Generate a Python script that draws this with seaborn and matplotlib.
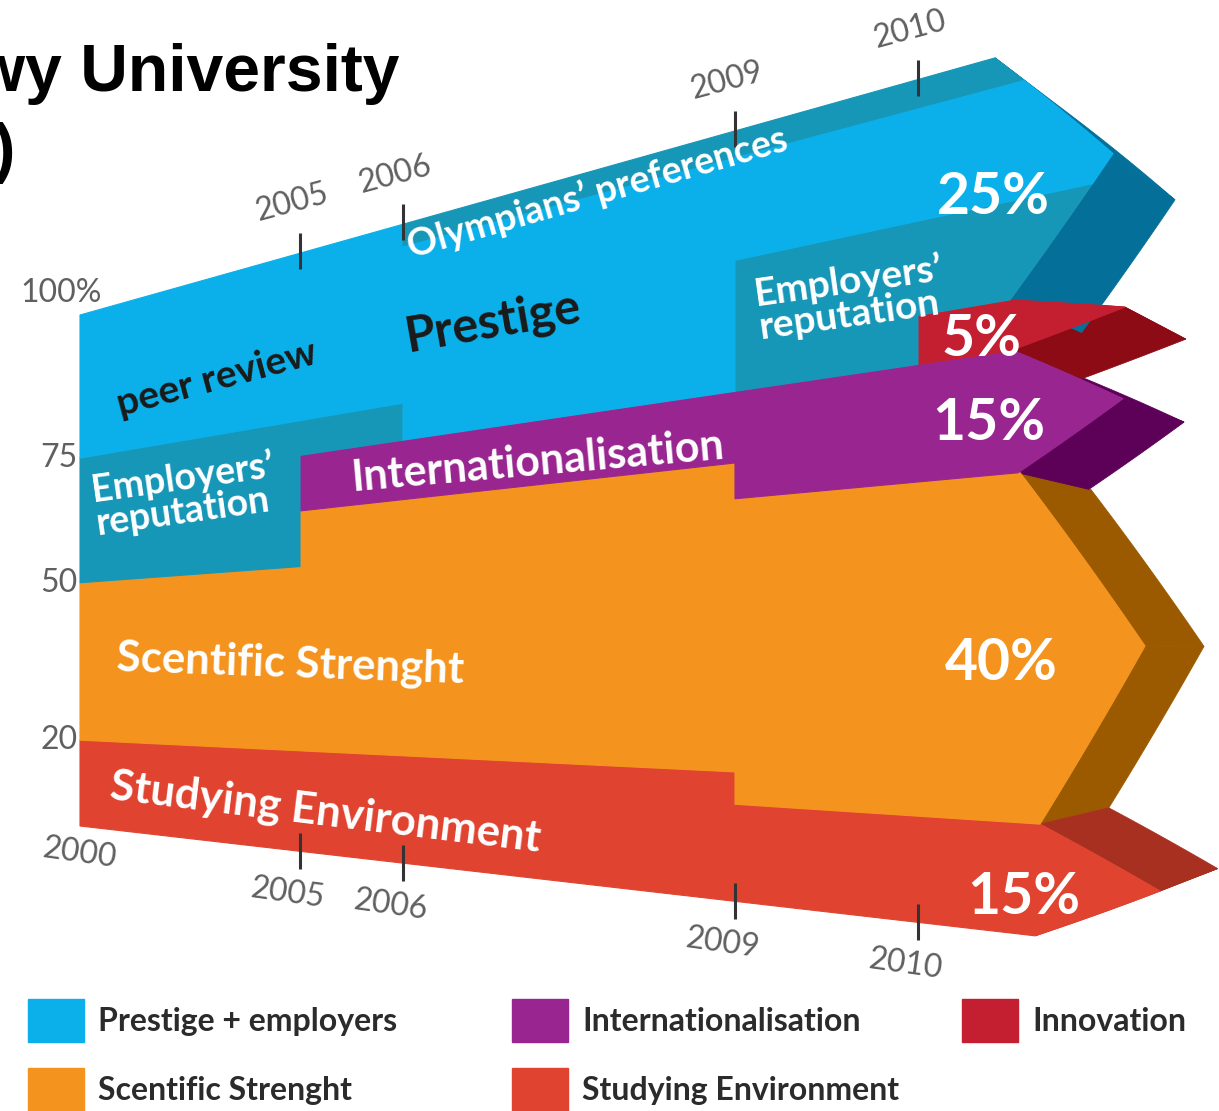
import numpy as np
import matplotlib
matplotlib.use('Agg')
import matplotlib.pyplot as plt
import seaborn as sns
from matplotlib.patches import Patch

# weights of the ranking criteria (percent) per edition
years = [2000, 2005, 2006, 2009, 2010]
studying = [20, 20, 20, 15, 15]
scientific = [30, 40, 40, 40, 40]
internationalisation = [0, 10, 10, 15, 15]
innovation = [0, 0, 0, 0, 5]
employers = [25, 5, 0, 15, 10]
peer_review = [25, 25, 27, 12, 12]
olympians = [0, 0, 3, 3, 3]

pct_ticks = [100, 75, 50, 20]
pct_tick_labels = ['100%', '75', '50', '20']

legend_cols = [
    [('Prestige + employers', 'peer_review'), ('Scentific Strenght', 'scientific')],
    [('Internationalisation', 'internationalisation'), ('Studying Environment', 'studying')],
    [('Innovation', 'innovation')],
]

# ---- layout of the fake-perspective band (pixels) ----
W, H = 1219, 1111
YEAR_U = [80, 300, 403, 735, 918]
TOP_Y0, TOP_SLOPE = 315, -0.281
BOT_Y0, BOT_SLOPE = 826, 0.115
WARP_P = [0, 20, 50, 70, 75, 100]
WARP_F = [0, 0.168, 0.476, 0.662, 0.72, 1.0]
VP, DEPTH = (1777, 650), 0.0933
HEADS = {  # u of top corner, tip, bottom corner
    'prestige': (995, 1113, 1010),
    'innovation': (1010, 1125, 1010),
    'internationalisation': (1013, 1123, 1018),
    'scientific': (1020, 1145, 1040),
    'studying': (1040, 1160, 1035),
}
LEGEND_X = [28, 512, 962]

colors = {
    'studying': '#e04430', 'scientific': '#f4941f', 'internationalisation': '#992690',
    'innovation': '#c41f30', 'employers': '#1797b7', 'peer_review': '#0bb0ea',
    'olympians': '#1797b7',
}
side_colors = {
    'prestige': '#04709a', 'innovation': '#8c0b14', 'internationalisation': '#5d0058',
    'scientific': '#9b5a00', 'studying': '#a83020',
}

layers = [
    ('studying', studying, 'studying'),
    ('scientific', scientific, 'scientific'),
    ('internationalisation', internationalisation, 'internationalisation'),
    ('innovation', innovation, 'innovation'),
    ('employers', employers, 'prestige'),
    ('peer_review', peer_review, 'prestige'),
    ('olympians', olympians, 'prestige'),
]


def warp(p):
    return np.interp(p, WARP_P, WARP_F)


def proj(u, f):
    u = np.asarray(u, float)
    f = np.asarray(f, float)
    top = TOP_Y0 + TOP_SLOPE * (u - YEAR_U[0])
    bot = BOT_Y0 + BOT_SLOPE * (u - YEAR_U[0])
    return u, bot - (bot - top) * f


sns.set_theme(style='white')
plt.rcParams['font.family'] = ['Lato', 'DejaVu Sans']

vals = np.array([v for _, v, _ in layers], float)
upper = np.cumsum(vals, axis=0)
lower = upper - vals
n = len(years)

# final extent of each group at the arrow heads
group_f = {}
for i, (name, _, g) in enumerate(layers):
    lo, hi = warp(lower[i, -1]), warp(upper[i, -1])
    if g in group_f:
        group_f[g] = (min(group_f[g][0], lo), max(group_f[g][1], hi))
    else:
        group_f[g] = (lo, hi)


def head_u(f, g):
    lo, hi = group_f[g]
    ut, utip, ub = HEADS[g]
    return np.interp(f, [lo, (lo + hi) / 2, hi], [ub, utip, ut])


fig = plt.figure(figsize=(W / 100, H / 100), dpi=100)
ax = fig.add_axes([0, 0, 1, 1])
ax.set_xlim(0, W)
ax.set_ylim(H, 0)
ax.axis('off')

# side faces of the arrow heads (centre first, outer ones on top)
for g in ['scientific', 'studying', 'internationalisation', 'innovation', 'prestige']:
    lo, hi = group_f[g]
    mid = (lo + hi) / 2
    for fa, fb in [(hi, mid), (mid, lo)]:
        fs = np.linspace(fa, fb, 21)
        x, y = proj(head_u(fs, g), fs)
        ox = x + DEPTH * (VP[0] - x)
        oy = y + DEPTH * (VP[1] - y)
        ax.fill(np.r_[x, ox[::-1]], np.r_[y, oy[::-1]], color=side_colors[g], lw=0.6,
                ec=side_colors[g])

# front faces of the bands
for i, (name, _, g) in enumerate(layers):
    thick = vals[i] > 0
    j = 0
    while j < n:
        if not thick[j]:
            j += 1
            continue
        k = j
        while k + 1 < n and thick[k + 1]:
            k += 1
        up_pts, lo_pts, right = [], [], []
        for m in range(j, k + 1):
            fu, fl = warp(upper[i, m]), warp(lower[i, m])
            u0 = YEAR_U[m]
            if m < n - 1:
                up_pts += [(u0, fu), (YEAR_U[m + 1], fu)]
                lo_pts += [(u0, fl), (YEAR_U[m + 1], fl)]
            else:
                up_pts += [(u0, fu)]
                lo_pts += [(u0, fl)]
                glo, ghi = group_f[g]
                fs = np.linspace(fu, fl, 30)
                mid = (glo + ghi) / 2
                if fl < mid < fu:
                    fs = np.sort(np.r_[fs, mid])[::-1]
                right = [(head_u(f, g), f) for f in fs]
        pts = up_pts + right + lo_pts[::-1]
        x, y = proj([p[0] for p in pts], [p[1] for p in pts])
        ax.fill(x, y, color=colors[name], lw=0.8, ec=colors[name])
        j = k + 1

# year ticks along top and bottom edges
grey = '#606060'
for yr, u in zip(years, YEAR_U):
    _, yt = proj(u, 1.0)
    _, yb = proj(u, 0.0)
    if yr != years[0]:
        ax.plot([u, u], [yt - 20, yt + 16], color='#333333', lw=2.2, solid_capstyle='butt')
        ax.plot([u, u], [yb - 18, yb + 18], color='#333333', lw=2.2, solid_capstyle='butt')
        ax.text(u - 8, yt - 50, str(yr), ha='center', va='center', rotation=15,
                fontsize=23, color=grey)
        ax.text(u - 12, yb + 42, str(yr), ha='center', va='center', rotation=-8,
                fontsize=23, color=grey)
    else:
        ax.text(u, yb + 27, str(yr), ha='center', va='center', rotation=-8,
                fontsize=23, color=grey)

# percent scale on the left edge
for p, lab in zip(pct_ticks, pct_tick_labels):
    _, y = proj(YEAR_U[0], warp(p))
    if p == 100:
        ax.text(102, y - 22, lab, ha='right', va='center', fontsize=23, color=grey)
    else:
        ax.text(78, y, lab, ha='right', va='center', fontsize=23, color=grey)

# band labels
band_text = [
    ('peer review', 217, 378, 15, '#1a1a1a', 28),
    ('Prestige', 493, 322, 10, '#1a1a1a', 35),
    ('Olympians\u2019 preferences', 597, 193, 16, 'white', 27),
    ('Employers\u2019\nreputation', 185, 494, 8, 'white', 27),
    ('Internationalisation', 538, 462, 5, 'white', 31),
    ('Employers\u2019\nreputation', 851, 298, 8, 'white', 28),
    ('Scentific Strenght', 290, 664, -2, 'white', 31.5),
    ('Studying Environment', 325, 812, -7, 'white', 31.5),
]
for txt, x, y, rot, c, fs in band_text:
    ax.text(x, y, txt, ha='center', va='center', rotation=rot, color=c, fontsize=fs,
            fontweight='bold', multialignment='left', linespacing=0.95)

# final weights, read from the 2010 column
final = [
    (employers[-1] + peer_review[-1] + olympians[-1], 993, 198),
    (innovation[-1], 981, 340),
    (internationalisation[-1], 989, 424),
    (scientific[-1], 1001, 663),
    (studying[-1], 1024, 898),
]
for v, x, y in final:
    ax.text(x, y, f'{v}%', ha='center', va='center', color='white', fontsize=41,
            fontweight='bold')

# title (cut off at the left edge)
title_font = ['Liberation Sans', 'DejaVu Sans']
ax.text(400, 91, 'Perspektywy University', ha='right', va='baseline', fontsize=47.5,
        fontweight='bold', family=title_font, color='black')
ax.text(15, 170, 'Ranking (Poland)', ha='right', va='baseline', fontsize=47.5,
        fontweight='bold', family=title_font, color='black')

# legend, one column block at a time
for col, x0 in zip(legend_cols, LEGEND_X):
    handles = [Patch(color=colors[key]) for _, key in col]
    leg = fig.legend(handles, [lab for lab, _ in col], loc='upper left',
                     bbox_to_anchor=(x0 / W, 1 - 999 / H), frameon=False,
                     prop={'family': 'Lato', 'weight': 'bold', 'size': 23},
                     handlelength=1.75, handleheight=1.7, handletextpad=0.45,
                     labelspacing=0.8, borderaxespad=0, borderpad=0)
    for t in leg.get_texts():
        t.set_color('#2b2b2b')

fig.savefig('out.png', dpi=100)
